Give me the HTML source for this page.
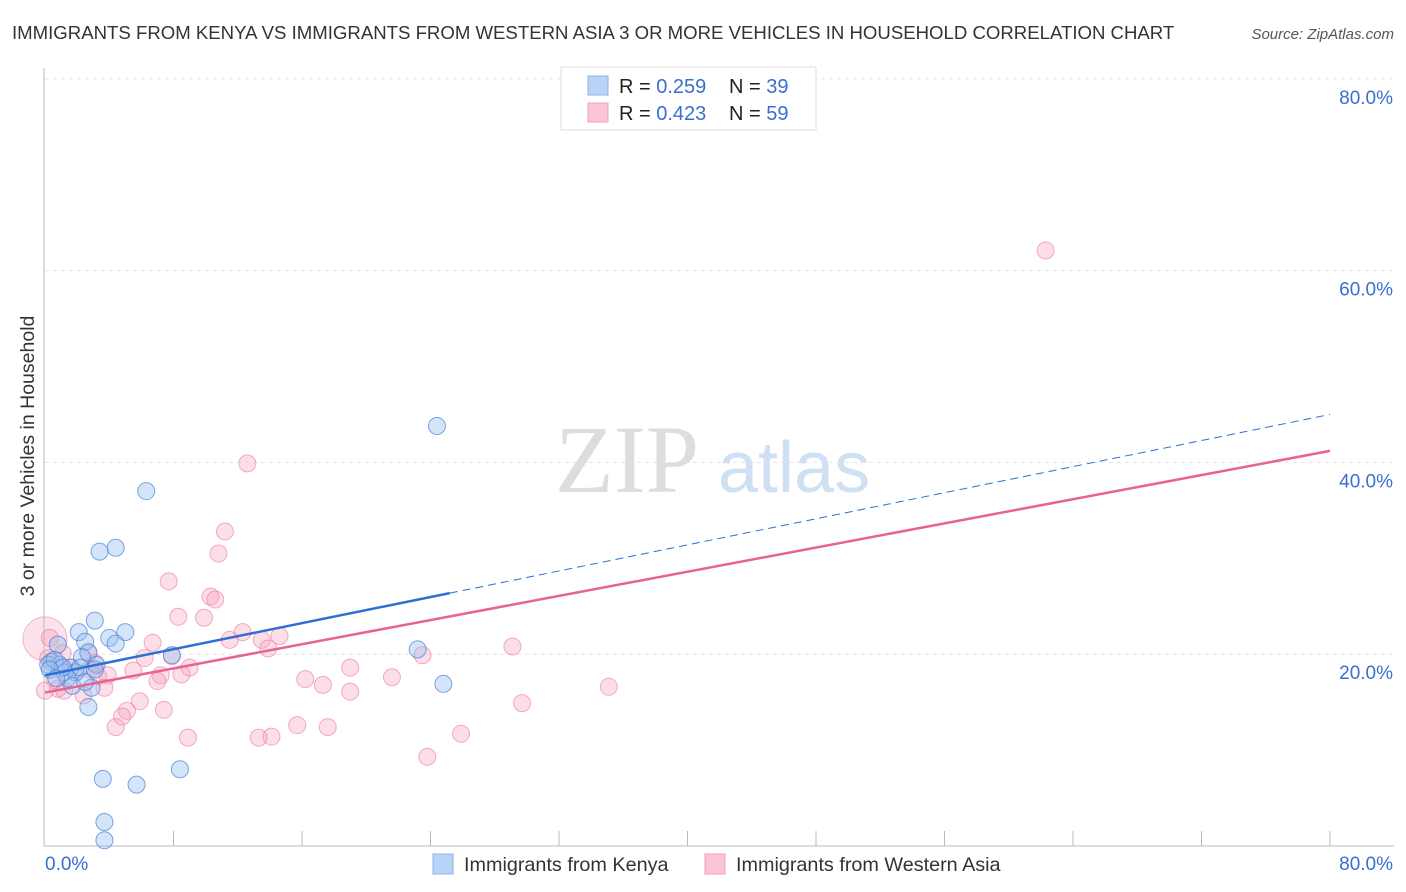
<!DOCTYPE html>
<html><head><meta charset="utf-8"><style>
body{margin:0;background:#fff;font-family:"Liberation Sans",sans-serif}
svg{display:block}
</style></head><body>
<svg id="c" width="1406" height="892">
<text x="12" y="39" font-size="18.6" fill="#333">IMMIGRANTS FROM KENYA VS IMMIGRANTS FROM WESTERN ASIA 3 OR MORE VEHICLES IN HOUSEHOLD CORRELATION CHART</text>
<text x="1394" y="39" font-size="15" font-style="italic" fill="#555" text-anchor="end">Source: ZipAtlas.com</text>
<text x="34" y="456" font-size="19.5" fill="#333" text-anchor="middle" transform="rotate(-90 34 456)">3 or more Vehicles in Household</text>
<text x="555" y="492" font-size="96" fill="#ddd" font-family="Liberation Serif,serif">ZIP</text>
<text x="718" y="492" font-size="72" fill="#cfe0f3">atlas</text>
<g id="grid"></g><g id="axes"></g><g id="pts"></g><g id="lines"></g>
<g>
<rect x="561" y="67" width="255" height="63" fill="#fff" stroke="#ddd"/>
<rect x="588" y="76" width="20" height="19" fill="#b8d3f5" stroke="#8fb4e6"/>
<rect x="588" y="103" width="20" height="19" fill="#fcc5d6" stroke="#f0a0ba"/>
<text x="619" y="93" font-size="20" fill="#222">R = <tspan fill="#3a6fd1">0.259</tspan></text>
<text x="729" y="93" font-size="20" fill="#222">N = <tspan fill="#3a6fd1">39</tspan></text>
<text x="619" y="120" font-size="20" fill="#222">R = <tspan fill="#3a6fd1">0.423</tspan></text>
<text x="729" y="120" font-size="20" fill="#222">N = <tspan fill="#3a6fd1">59</tspan></text>
</g>
<g>
<rect x="433" y="854" width="20" height="20" fill="#b8d3f5" stroke="#8fb4e6"/>
<text x="464" y="871" font-size="19.8" fill="#333">Immigrants from Kenya</text>
<rect x="705" y="854" width="20" height="20" fill="#fcc5d6" stroke="#f0a0ba"/>
<text x="736" y="871" font-size="19.8" fill="#333">Immigrants from Western Asia</text>
</g>
</svg>
<script>
const yTicks=[20,40,60,80];
const xTickLabels=["0.0%","80.0%"];
const kenyaX=[24.4,6.3,4.4,3.4,3.1,5.0,2.1,4.0,2.5,4.4,0.8,2.7,7.9,23.2,2.3,0.4,0.9,1.6,0.2,1.2,1.9,1.4,2.9,24.8,1.7,2.7,3.6,8.4,5.7,3.7,3.7,0.6,1.1,2.2,3.2,0.3,2.5,0.7,3.1];
const kenyaY=[43.8,37.0,31.1,30.7,23.5,22.3,22.3,21.7,21.3,21.1,21.0,20.2,19.9,20.5,19.7,19.2,18.9,18.6,18.9,18.1,18.1,17.5,16.5,16.9,16.7,14.5,7.0,8.0,6.4,2.5,0.6,19.4,18.6,18.6,18.9,18.4,17.1,17.5,18.4];
const waX=[62.3,12.6,11.2,10.8,7.7,10.3,10.6,8.3,9.9,12.3,14.6,6.7,11.5,13.5,13.9,29.1,23.5,6.2,7.9,2.7,9.0,19.0,5.5,7.2,8.5,3.3,3.9,16.2,21.6,7.0,17.3,0.8,3.7,19.0,35.1,2.4,5.9,29.7,7.4,5.1,4.8,4.4,15.7,17.6,8.9,13.3,14.1,25.9,23.8,0.3,0.2,1.1,1.6,2.8,0.6,1.9,1.2,0.0,3.1];
const waY=[62.1,39.9,32.8,30.5,27.6,26.0,25.7,23.9,23.8,22.3,21.9,21.2,21.5,21.5,20.6,20.8,19.9,19.6,19.8,20.1,18.6,18.6,18.3,17.8,17.9,17.7,17.8,17.4,17.6,17.2,16.8,16.4,16.5,16.1,16.6,15.7,15.1,14.9,14.2,14.1,13.5,12.4,12.6,12.4,11.3,11.3,11.4,11.7,9.3,21.7,19.6,20.1,18.6,18.4,17.3,18.1,16.2,16.2,19.1];
const kenyaFit=[17.8,45.0];
const waFit=[16.0,41.2];
const X=v=>45+v*16.0625, Y=v=>846-v*9.59;
const NS="http://www.w3.org/2000/svg";
function mk(tag,attrs,parent){const e=document.createElementNS(NS,tag);for(const k in attrs)e.setAttribute(k,attrs[k]);document.getElementById(parent).appendChild(e);return e;}
yTicks.forEach(t=>{
 const l=mk('line',{x1:45,x2:1394,y1:Y(t),y2:Y(t),stroke:'#e3e3e3','stroke-dasharray':'4 4'},'grid');
 
 
 const tx=mk('text',{x:1393,y:Y(t)+25,'font-size':19,fill:'#3a6fd1','text-anchor':'end'},'grid');
 tx.textContent=t.toFixed(1)+'%';
 
 
});
mk('line',{x1:44,x2:44,y1:68,y2:846,stroke:'#bbb'},'axes');
mk('line',{x1:44,x2:1394,y1:846,y2:846,stroke:'#bbb'},'axes');
for(let i=1;i<=10;i++){const x=45+i*128.5;mk('line',{x1:x,x2:x,y1:831,y2:846,stroke:'#bbb'},'axes');}
xTickLabels.forEach((s,i)=>{const t=mk('text',{x:i?1393:45,y:870,'font-size':19,fill:'#3a6fd1','text-anchor':i?'end':'start'},'axes');t.textContent=s;
 
 });
const big=mk('circle',{cx:X(0),cy:Y(21.6),r:22,fill:'rgba(246,160,188,0.3)',stroke:'rgba(236,120,160,0.5)'},'pts');


waX.forEach((v,i)=>{const c=mk('circle',{cx:X(v),cy:Y(waY[i]),r:8.5,fill:'rgba(246,160,188,0.35)',stroke:'rgba(236,120,160,0.6)'},'pts');
 
 });
kenyaX.forEach((v,i)=>{const c=mk('circle',{cx:X(v),cy:Y(kenyaY[i]),r:8.5,fill:'rgba(150,190,240,0.4)',stroke:'rgba(70,130,215,0.7)'},'pts');
 
 });
const kf=v=>kenyaFit[0]+(kenyaFit[1]-kenyaFit[0])*v/80;
const wf=v=>waFit[0]+(waFit[1]-waFit[0])*v/80;
let l1=mk('line',{x1:X(0),y1:Y(kf(0)),x2:X(25.2),y2:Y(kf(25.2)),stroke:'#2d6fd6','stroke-width':2.5},'lines');


let l2=mk('line',{x1:X(25.2),y1:Y(kf(25.2)),x2:X(80),y2:Y(kf(80)),stroke:'#2d6fd6','stroke-width':1,'stroke-dasharray':'8 5'},'lines');


let l3=mk('line',{x1:X(0),y1:Y(wf(0)),x2:X(80),y2:Y(wf(80)),stroke:'#e8638f','stroke-width':2.5},'lines');


</script>
</body></html>
